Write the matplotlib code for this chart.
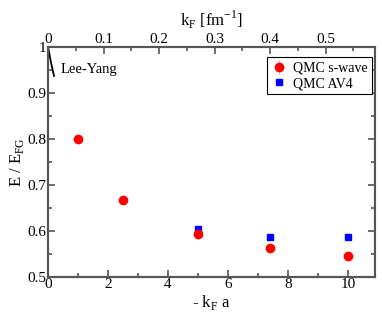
import numpy as np
import matplotlib
matplotlib.use("Agg")
import matplotlib.pyplot as plt
from matplotlib.ticker import MultipleLocator

plt.rcParams['font.family'] = ['Liberation Serif', 'DejaVu Serif']
plt.rcParams['mathtext.fontset'] = 'custom'
plt.rcParams['mathtext.rm'] = 'Liberation Serif'

# data
kfa_swave = [1.0, 2.5, 5.0, 7.4, 10.0]
e_swave = [0.800, 0.667, 0.593, 0.563, 0.546]
err_swave = [0.0, 0.008, 0.0, 0.0, 0.0]
kfa_av4 = [5.0, 7.4, 10.0]
e_av4 = [0.604, 0.587, 0.587]
kfa_ly = [0.0, 0.1, 0.2]
e_ly = [1.0, 0.966, 0.937]
a_fm = 18.5  # |a| in fm, top axis k_F = (-k_F a)/|a|
kf_ticks = [0.0, 0.1, 0.2, 0.3, 0.4, 0.5]
kf_labels = ['0', '0.1', '0.2', '0.3', '0.4', '0.5']

axc = '#555555'
fig = plt.figure(figsize=(3.82, 3.17), dpi=100)
ax = fig.add_axes([0.1257, 0.126, 0.856, 0.726])

ax.plot(kfa_ly, e_ly, color='k', lw=1.3)
ax.text(0.42, 0.952, 'Lee-Yang', fontsize=10.5, va='center')
sw = ax.errorbar(kfa_swave, e_swave, yerr=err_swave, fmt='o', color='red', ms=6,
                 ecolor='#ffaaaa', elinewidth=1, capsize=0)
av, = ax.plot(kfa_av4, e_av4, 's', color='blue', ms=5)

ax.set_xlim(0, 10.9)
ax.set_ylim(0.5, 1.0)
ax.xaxis.set_major_locator(MultipleLocator(2))
ax.xaxis.set_minor_locator(MultipleLocator(1))
ax.yaxis.set_minor_locator(MultipleLocator(0.05))
ax.set_yticks([0.5, 0.6, 0.7, 0.8, 0.9, 1.0])
ax.set_yticklabels(['0.5', '0.6', '0.7', '0.8', '0.9', '1'])
ax.tick_params(which='both', direction='in', right=True, color=axc, width=1.2,
               labelsize=11, pad=1)
ax.tick_params(which='major', length=5)
ax.tick_params(which='minor', length=3)
for s in ax.spines.values():
    s.set_color(axc)
    s.set_linewidth(1.5)

ax.set_xlabel(r'- k$_\mathrm{F}$ a', fontsize=12, labelpad=1)
ax.set_ylabel(r'E / E$_\mathrm{FG}$', fontsize=12, labelpad=1)

top = ax.twiny()
top.set_xlim(0, 10.9 / a_fm)
top.set_xticks(kf_ticks)
top.set_xticklabels(kf_labels)
top.xaxis.set_minor_locator(MultipleLocator(0.05))
top.tick_params(which='both', direction='in', color=axc, width=1.2, labelsize=11, pad=1)
top.tick_params(which='major', length=5)
top.tick_params(which='minor', length=3)
for s in top.spines.values():
    s.set_color(axc)
    s.set_linewidth(1.5)
top.set_xlabel(r'k$_\mathrm{F}$ [fm$^{-1}$]', fontsize=12, labelpad=5)

leg = top.legend([sw, av], ['QMC s-wave', 'QMC AV4'], loc='upper right',
                 fontsize=10, fancybox=False, edgecolor='k',
                 framealpha=1, handletextpad=0.4, borderpad=0.3, labelspacing=0.2,
                 handlelength=1.2, bbox_to_anchor=(0.99, 0.955), numpoints=1,
                 borderaxespad=0)
leg.get_frame().set_linewidth(0.8)

fig.savefig('out.png', dpi=100)
